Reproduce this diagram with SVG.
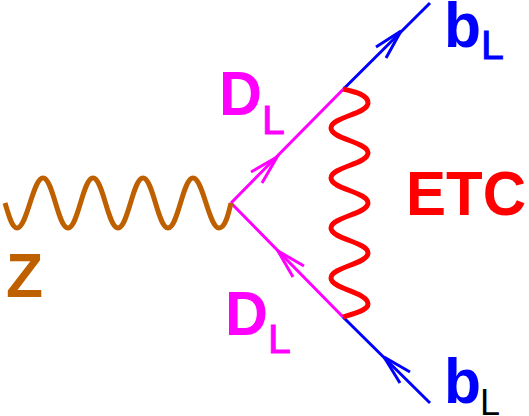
<svg xmlns="http://www.w3.org/2000/svg" width="529" height="416" viewBox="0 0 529 416">
<style>
text{font-family:"Liberation Sans",Arial,sans-serif}
.b{font-weight:bold;font-size:63px}
.s{font-size:41px;stroke-width:1}
.w{fill:none;stroke-linecap:butt;stroke-linejoin:round;stroke-width:5}
.l{fill:none;stroke-width:3}
.m{stroke:#ff00ff}
.u{stroke:#0000ff}
</style>
<rect width="529" height="416" fill="#fff"/>
<g id="connectors">
<path class="l m" d="M231 203L343.500 89M231 203L343 317"/>
<path class="l u" d="M343.500 89L430 3M343 317L430 403"/>
<path class="l m" d="M251 172L277 157L262 183M304 266L278 251L293 277"/>
<path class="l u" d="M376 47L401 31L386 58M410 372L384 357L400 383"/>
<path id="z-wave" class="w" stroke="#bf6000" d="M5 203C9 216 12 228 17 228C27 228 33 178 43 178C53 178 58 228 68 228C78 228 83 178 93 178C103 178 108 228 118 228C128 228 133 178 143 178C153 178 158 228 168 228C178 228 183 178 193 178C203 178 209 228 219 228C225 228 228 216 231 203"/>
<path id="etc-wave" class="w" stroke="#ff0000" d="M343 89C356 92 368 95 368 103C368 114 331 117 331 128C331 139 368 142 368 153C368 164 331 167 331 178C331 189 368 192 368 203C368 214 331 217 331 228C331 239 368 242 368 253C368 264 331 267 331 278C331 289 368 292 368 304C368 310 356 313 343 317"/>
</g>
<g id="label-z"><text class="b" x="6" y="297" fill="#bf6000" textLength="37" lengthAdjust="spacingAndGlyphs">Z</text></g>
<g id="label-dl-top"><text class="b" x="219" y="115" fill="#ff00ff" textLength="43" lengthAdjust="spacingAndGlyphs">D</text><text class="s" x="262" y="134" fill="#ff00ff" stroke="#ff00ff">L</text></g>
<g id="label-dl-bottom"><text class="b" x="225" y="335" fill="#ff00ff" textLength="43" lengthAdjust="spacingAndGlyphs">D</text><text class="s" x="268" y="353" fill="#ff00ff" stroke="#ff00ff">L</text></g>
<g id="label-bl-top"><text class="b" x="444" y="47" fill="#0000ff" textLength="37" lengthAdjust="spacingAndGlyphs">b</text><text class="s" x="481" y="59" fill="#0000ff" stroke="#0000ff">L</text></g>
<g id="label-bl-bottom"><text class="b" x="444" y="403" fill="#0000ff" textLength="37" lengthAdjust="spacingAndGlyphs">b</text><text x="480" y="415" font-size="36" fill="#000">L</text></g>
<g id="label-etc"><text class="b" x="406" y="215" fill="#ff0000" textLength="120" lengthAdjust="spacingAndGlyphs">ETC</text></g>
</svg>
